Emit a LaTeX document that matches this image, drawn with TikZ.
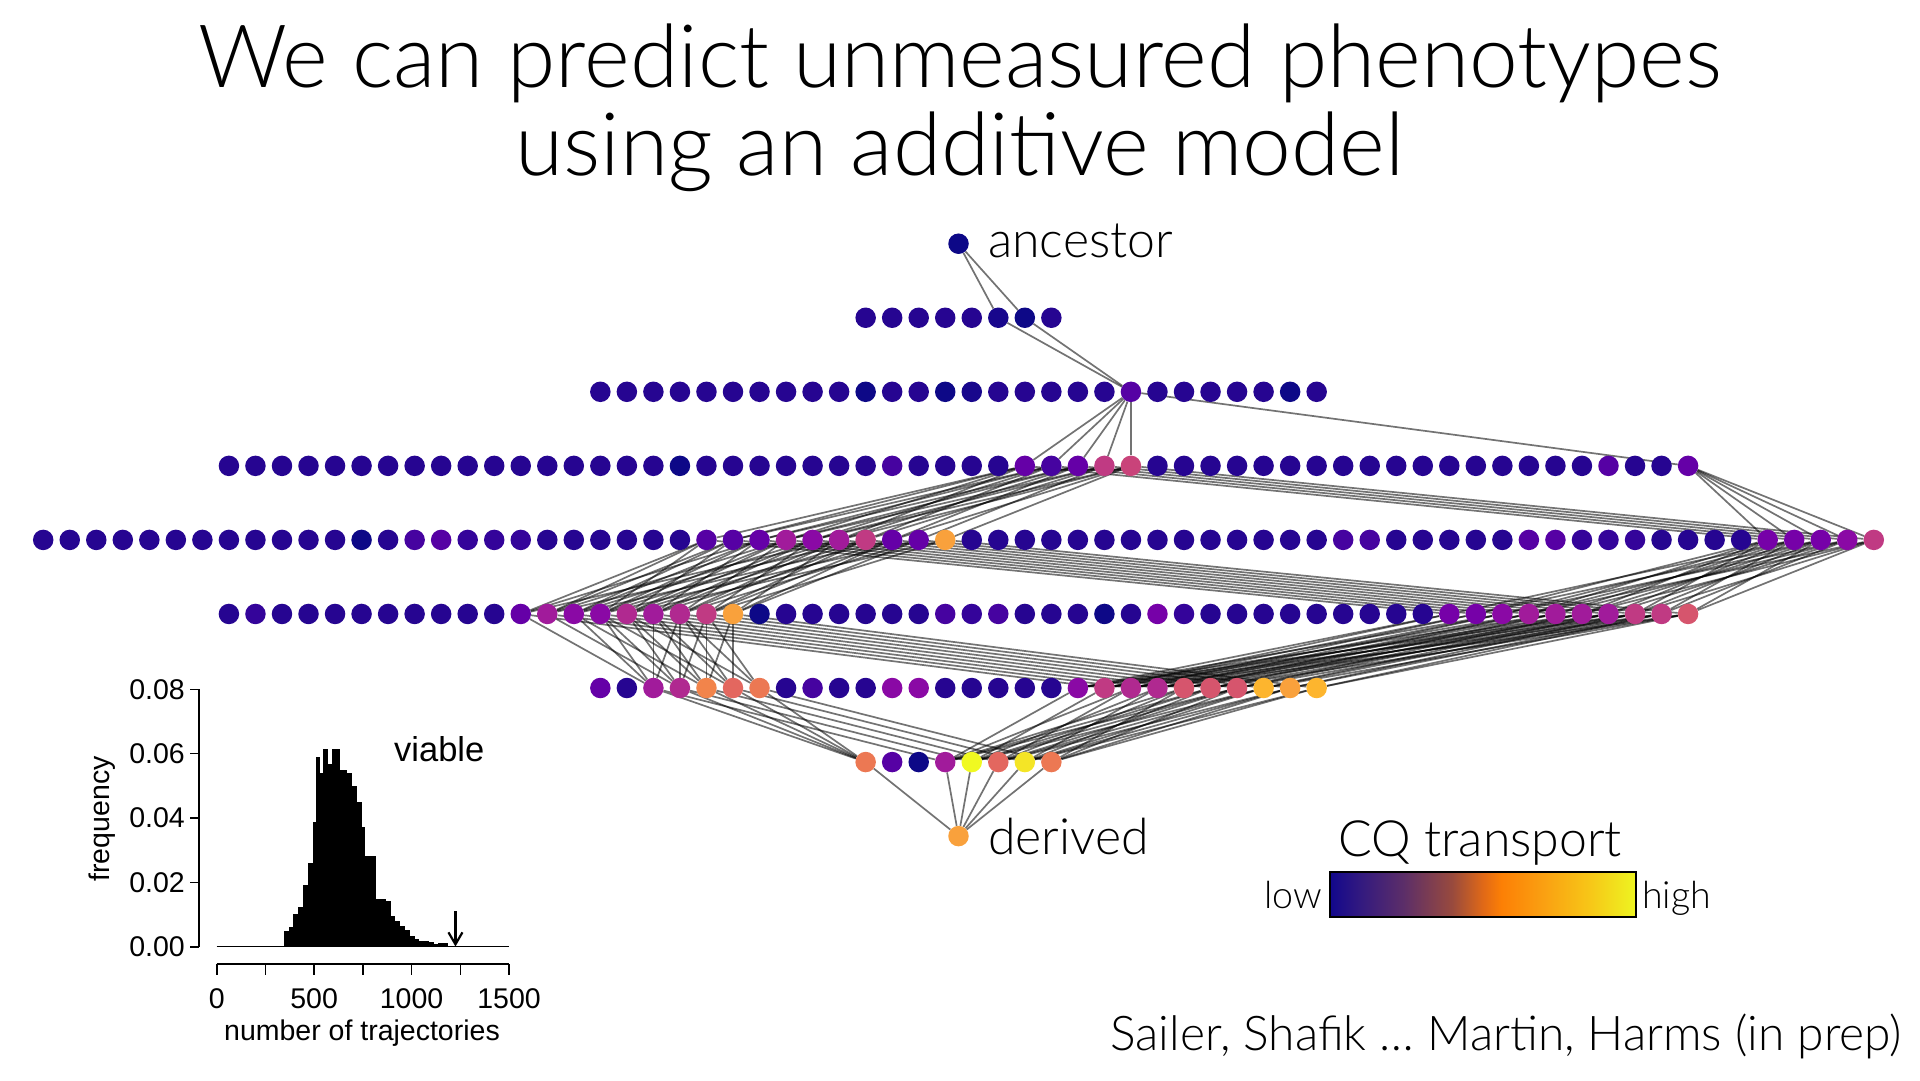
\documentclass[tikz,border=0pt]{standalone}
\usepackage{fontspec}
\IfFontExistsTF{Lato Light}{\setmainfont{Lato Light}}{\setmainfont{Lato}}
\newfontfamily\plotfont{Liberation Sans}
\usetikzlibrary{arrows.meta,positioning}

% plasma-like colours of the genotypes
\definecolor{nv}{HTML}{0D0887}
\definecolor{dk}{HTML}{18078C}
\definecolor{bl}{HTML}{260591}
\definecolor{vi}{HTML}{34049A}
\definecolor{pu}{HTML}{4603A0}
\definecolor{pq}{HTML}{5601A4}
\definecolor{pr}{HTML}{6500A7}
\definecolor{pp}{HTML}{7601A8}
\definecolor{mg}{HTML}{8A09A5}
\definecolor{mh}{HTML}{A11B9B}
\definecolor{mk}{HTML}{B02990}
\definecolor{pk}{HTML}{C03A83}
\definecolor{pl}{HTML}{C9437A}
\definecolor{rs}{HTML}{D6556D}
\definecolor{cr}{HTML}{E3675F}
\definecolor{co}{HTML}{EC7853}
\definecolor{or}{HTML}{F2844B}
\definecolor{ao}{HTML}{F9A13C}
\definecolor{am}{HTML}{FDB52E}
\definecolor{yl}{HTML}{F0F921}
\definecolor{ye}{HTML}{F4E526}

\pgfdeclarelayer{bg}
\pgfsetlayers{bg,main}

\pgfdeclarehorizontalshading{cqbar}{100bp}{rgb(0bp)=(0.07,0.03,0.55);
  rgb(25bp)=(0.07,0.03,0.55); rgb(30bp)=(0.20,0.10,0.50); rgb(37bp)=(0.36,0.18,0.41);
  rgb(45bp)=(0.60,0.29,0.24); rgb(50bp)=(0.88,0.41,0.09); rgb(53bp)=(0.99,0.50,0.02);
  rgb(60bp)=(0.98,0.63,0.07); rgb(67bp)=(0.97,0.77,0.09); rgb(75bp)=(0.93,0.96,0.13);
  rgb(100bp)=(0.93,0.96,0.13)}

\tikzset{
  dot/.style={circle, inner sep=0pt, minimum size=20.5pt},
  link/.style={draw=black, draw opacity=0.55, line width=1.7pt},
  lbl/.style={inner sep=0pt, font=\fontsize{50}{55}\selectfont},
  axis/.style={line width=1.6pt},
  ticklbl/.style={inner sep=0pt, font=\plotfont\fontsize{28.5}{30}\selectfont}
}

\begin{document}
\begin{tikzpicture}[x=1pt, y=-1pt]
\useasboundingbox (0,0) rectangle (1920,1080);

% title
\node[anchor=base, inner sep=0pt, font=\fontsize{87.5}{100}\selectfont] (title1) at (960,87.3) {We can predict unmeasured phenotypes};
\node[anchor=base, inner sep=0pt, font=\fontsize{87.5}{100}\selectfont] (title2) at (960,175) {using an additive model};

% genotypes, one row per number of mutations
\node[dot, fill=nv] (r0-0) at (958.5,243.7) {};
\foreach \c [count=\i from 0] in {bl,bl,bl,bl,bl,dk,nv,bl}
  \node[dot, fill=\c] (r1-\i) at ({958.5+26.53*(\i-3.5)},317.75) {};
\foreach \c [count=\i from 0] in {bl,bl,bl,bl,bl,bl,bl,bl,bl,bl,nv,bl,bl,nv,dk,bl,bl,bl,bl,bl,pq,bl,bl,bl,bl,bl,nv,bl}
  \node[dot, fill=\c] (r2-\i) at ({958.5+26.53*(\i-13.5)},391.8) {};
\foreach \c [count=\i from 0] in {bl,bl,bl,bl,bl,bl,bl,bl,bl,bl,bl,bl,bl,bl,bl,bl,bl,nv,bl,bl,bl,bl,bl,bl,bl,pu,bl,bl,bl,bl,
    pr,pu,pr,pk,pl,bl,bl,bl,bl,bl,bl,bl,bl,bl,bl,bl,bl,bl,bl,bl,bl,bl,pq,bl,bl,pr}
  \node[dot, fill=\c] (r3-\i) at ({958.5+26.53*(\i-27.5)},465.85) {};
\foreach \c [count=\i from 0] in {bl,bl,bl,bl,bl,bl,bl,bl,bl,bl,bl,bl,nv,bl,pu,pq,vi,vi,vi,bl,bl,bl,bl,bl,bl,
    pq,pq,pr,mh,mg,mh,pk,pr,pr,ao,bl,bl,bl,bl,bl,bl,bl,bl,bl,bl,bl,bl,bl,bl,pu,pu,bl,bl,bl,bl,bl,
    pq,pq,vi,vi,vi,bl,bl,bl,bl,pp,pp,pp,mg,pk}
  \node[dot, fill=\c] (r4-\i) at ({958.5+26.53*(\i-34.5)},539.9) {};
\foreach \c [count=\i from 0] in {bl,vi,bl,bl,bl,bl,bl,bl,bl,bl,bl,pr,mh,mg,mg,mk,mh,mk,pk,ao,nv,bl,bl,bl,bl,bl,bl,
    pu,vi,pu,bl,bl,bl,nv,bl,pp,vi,bl,bl,bl,bl,bl,bl,bl,bl,bl,pp,pp,mg,mh,mh,mh,mh,pk,pk,rs}
  \node[dot, fill=\c] (r5-\i) at ({958.5+26.53*(\i-27.5)},613.95) {};
\foreach \c [count=\i from 0] in {pr,bl,mh,mk,or,cr,co,bl,pu,bl,bl,mg,mg,bl,bl,bl,bl,bl,mg,pk,mk,mk,rs,rs,rs,am,ao,am}
  \node[dot, fill=\c] (r6-\i) at ({958.5+26.53*(\i-13.5)},688) {};
\foreach \c [count=\i from 0] in {co,pq,nv,mh,yl,cr,ye,co}
  \node[dot, fill=\c] (r7-\i) at ({958.5+26.53*(\i-3.5)},762.05) {};
\node[dot, fill=ao] (r8-0) at (958.5,836.1) {};

\node[lbl, right=19pt of r0-0, yshift=3pt] (anclbl) {ancestor};
\node[lbl, right=19pt of r8-0] (derlbl) {derived};

% trajectories between neighbouring rows
\begin{pgfonlayer}{bg}
  \foreach \k in {5,6} \draw[link] (r0-0) -- (r1-\k) (r1-\k) -- (r2-20);
  \foreach \k in {30,...,34,55} \draw[link] (r2-20) -- (r3-\k);
  \foreach \d in {-5,-4,-2,0} \foreach \src in {30,...,34} {
    \pgfmathtruncatemacro\dst{\src+\d}
    \draw[link] (r3-\src) -- (r4-\dst);
  }
  \foreach \src in {30,...,34} {
    \pgfmathtruncatemacro\dst{\src+35}
    \draw[link] (r3-\src) -- (r4-\dst);
    \draw[link] (r3-55) -- (r4-\dst);
  }
  \foreach \d in {-11,-13,-14,-16,-19} \foreach \src in {25,...,34} {
    \pgfmathtruncatemacro\dst{\src+\d}
    \ifnum\dst>10 \ifnum\dst<20 \draw[link] (r4-\src) -- (r5-\dst); \fi\fi
  }
  \foreach \src in {25,...,34} {
    \pgfmathtruncatemacro\dst{\src+21}
    \draw[link] (r4-\src) -- (r5-\dst);
  }
  \foreach \d in {-12,-14,-16,-18,-20} \foreach \src in {65,...,69} {
    \pgfmathtruncatemacro\dst{\src+\d}
    \ifnum\dst>45 \ifnum\dst<56 \draw[link] (r4-\src) -- (r5-\dst); \fi\fi
  }
  \foreach \d in {-9,-11,-12,-14,-15} \foreach \src in {11,...,19} {
    \pgfmathtruncatemacro\dst{\src+\d}
    \ifnum\dst>1 \ifnum\dst<7 \draw[link] (r5-\src) -- (r6-\dst); \fi\fi
  }
  \foreach \src in {11,...,19} {
    \pgfmathtruncatemacro\dst{\src+8}
    \draw[link] (r5-\src) -- (r6-\dst);
  }
  \foreach \d in {-27,-28,-30,-32,-34} \foreach \src in {46,...,55} {
    \pgfmathtruncatemacro\dst{\src+\d}
    \ifnum\dst>17 \ifnum\dst<28 \draw[link] (r5-\src) -- (r6-\dst); \fi\fi
  }
  \foreach \src in {2,...,6} {
    \pgfmathtruncatemacro\dst{\src+1}
    \draw[link] (r6-\src) -- (r7-\dst) (r6-\src) -- (r7-0);
  }
  \foreach \d in {-15,-17,-19,-20,-21} \foreach \src in {18,...,27} {
    \pgfmathtruncatemacro\dst{\src+\d}
    \ifnum\dst>2 \ifnum\dst<8 \draw[link] (r6-\src) -- (r7-\dst); \fi\fi
  }
  \foreach \k in {0,3,4,5,6,7} \draw[link] (r7-\k) -- (r8-0);
\end{pgfonlayer}

% colour scale
\node[shade, shading=cqbar, draw, line width=2.2pt, inner sep=0pt, minimum width=306pt, minimum height=45.6pt] (cqbar) at (1483,894.5) {};
\node[lbl, anchor=base] (cqlbl) at (1480,856.7) {CQ transport};
\node[inner sep=0pt, anchor=base east, font=\fontsize{37.5}{42}\selectfont] (lowlbl) at (1322,908.3) {low};
\node[inner sep=0pt, anchor=base west, font=\fontsize{37.5}{42}\selectfont] (highlbl) at (1642,908.3) {high};

\node[inner sep=0pt, anchor=base east, font=\fontsize{47.9}{54}\selectfont] (credit) at (1902,1050.7) {Sailer, Shafik … Martin, Harms (in prep)};

% inset histogram
\begin{scope}[shift={(216.7,946.5)}, x=0.1949pt, y=3215pt]
  \foreach \a/\z/\f in {280/345/.0003, 345/369/.0047, 369/393/.0060, 393/419/.0102, 419/444/.0122,
      444/468/.0190, 468/492/.0259, 492/508/.0387, 508/530/.0591, 530/547/.0539, 547/573/.0615,
      573/593/.0568, 593/633/.0615, 633/670/.0550, 670/696/.0540, 696/722/.0500, 722/746/.0449,
      746/759/.0373, 759/819/.0283, 819/869/.0148, 869/893/.0140, 893/917/.0096, 917/942/.0080,
      942/966/.0065, 966/992/.0050, 992/1016/.0034, 1016/1040/.0023, 1040/1064/.0018,
      1064/1088/.0016, 1088/1113/.0014, 1113/1137/.0009, 1137/1163/.0010, 1163/1188/.0010,
      1188/1214/.0003, 1260/1290/.0002}
    \fill (\a,0) rectangle (\z,\f);
  \draw[line width=0.8pt] (0,0) -- (1500,0);
  \draw[line width=2.2pt, -{Straight Barb[length=12pt,width=14pt,line width=2.2pt]}] (1225,.0110) -- (1225,0);
\end{scope}
\draw[axis] (199,689.3) -- (199,946.7);
\foreach \v [count=\k from 0] in {0.00,0.02,0.04,0.06,0.08} {
  \draw[axis] (190,{946.7-64.35*\k}) -- (199,{946.7-64.35*\k});
  \node[ticklbl, anchor=east] (ytk\k) at (185,{946.7-64.35*\k}) {\v};
}
\draw[axis] (216.7,964) -- (509,964);
\foreach \k in {0,...,6}
  \draw[axis] ({216.7+48.72*\k},964) -- ({216.7+48.72*\k},975);
\foreach \v [count=\k from 0] in {0,500,1000,1500}
  \node[ticklbl, anchor=base] (xtk\k) at ({216.7+97.44*\k},1008) {\v};
\node[ticklbl, anchor=base] (xlab) at (362,1040) {number of trajectories};
\node[ticklbl, anchor=base, rotate=90] (ylab) at (109,819) {frequency};
\node[inner sep=0pt, anchor=base west, font=\plotfont\fontsize{34.5}{40}\selectfont] (viable) at (394,761) {viable};
\end{tikzpicture}
\end{document}
